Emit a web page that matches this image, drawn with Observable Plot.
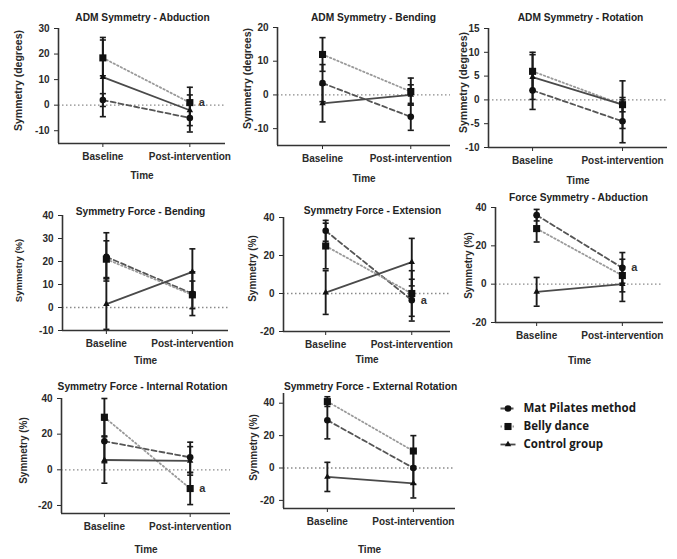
<!DOCTYPE html>
<html><head><meta charset="utf-8">
<script src="https://cdn.jsdelivr.net/npm/d3@7"></script>
<script src="https://cdn.jsdelivr.net/npm/@observablehq/plot@0.6"></script>
<style>
html,body{margin:0;padding:0;background:#fff;}
#root{position:relative;width:677px;height:559px;overflow:hidden;background:#fff;}
#root > svg{position:absolute;margin:0;}
</style></head><body><div id="root"></div>
<script>
// ---- data ----
const titles = ["ADM Symmetry - Abduction","ADM Symmetry - Bending","ADM Symmetry - Rotation",
  "Symmetry Force - Bending","Symmetry Force - Extension","Force Symmetry - Abduction",
  "Symmetry Force - Internal Rotation","Symmetry Force - External Rotation"];
const yLabels = ["Symmetry (degrees)","Symmetry (degrees)","Symmetry (degrees)",
  "Symmetry (%)","Symmetry (%)","Symmetry (%)","Symmetry (%)","Symmetry (%)"];
const times = ["Baseline","Post-intervention"];
const groups = ["Mat Pilates method","Belly dance","Control group"];
const yTicks = [[-10,0,10,20,30],[-10,0,10,20],[-10,-5,0,5,10,15],[-10,0,10,20,30,40],
  [-20,0,20,40],[-20,0,20,40],[-20,0,20,40],[-20,0,20,40]];
const matMean = [[2,-5],[3.5,-6.5],[2,-4.5],[22,6],[33,-3.5],[36,8.5],[16,7],[29.5,0]];
const matErr = [[2.5,5.5],[5.5,4],[4,4.5],[10.5,9.5],[5.5,11],[3,8],[12,8.5],[11.5,10]];
const bellyMean = [[18.5,1],[12,1],[6,-1],[21,5.5],[25,0],[29,4.5],[29.5,-10.5],[41,10.5]];
const bellyErr = [[7,6],[5,4],[4,5],[8,6],[12,12],[7,8.5],[10.5,9],[3,9.5]];
const controlMean = [[11,-2],[-2.5,0],[4.8,-1],[1.5,15.5],[0.5,16.5],[-4,0],[5.5,5],[-5.5,-9.5]];
const controlErr = [[15.5,6],[5.5,3],[4.7,1.5],[11,10],[11.5,12.5],[7.5,9],[13,8],[9,9]];
const sigGroup = ["Belly dance",null,null,null,"Mat Pilates method","Mat Pilates method","Belly dance",null];
const sigText = "a";

// ---- layout (pixel placement of each panel) ----
const layout = [
 {ax:58,right:225,top:28,bottom:143,yLo:-15,yHi:30,xLo:-0.51,xHi:1.41,tx:142,ty:17,lx:18,ly:80,timeY:175,lfs:10.5},
 {ax:277,right:450,top:27,bottom:145,yLo:-15,yHi:20,xLo:-0.51,xHi:1.45,tx:373,ty:17,lx:247,ly:78,timeY:178,lfs:10.5},
 {ax:488,right:667,top:28,bottom:147,yLo:-10,yHi:15,xLo:-0.49,xHi:1.5,tx:580,ty:17,lx:463,ly:82,timeY:180,lfs:10.5},
 {ax:62,right:228,top:215,bottom:330,yLo:-10,yHi:40,xLo:-0.51,xHi:1.42,tx:140,ty:211,lx:18,ly:270,timeY:360,lfs:9.5},
 {ax:283,right:450,top:217,bottom:331,yLo:-20,yHi:40,xLo:-0.49,xHi:1.45,tx:372,ty:210,lx:252,ly:268,timeY:359,lfs:10},
 {ax:495,right:663,top:207,bottom:322,yLo:-20,yHi:40,xLo:-0.48,xHi:1.48,tx:578,ty:197,lx:468,ly:265,timeY:360,lfs:10},
 {ax:61,right:230,top:398,bottom:513,yLo:-24.5,yHi:40,xLo:-0.5,xHi:1.47,tx:142,ty:386,lx:23,ly:450,timeY:549,lfs:10},
 {ax:283,right:455,top:393,bottom:508,yLo:-25,yHi:46,xLo:-0.51,xHi:1.49,tx:370,ty:386,lx:253,ly:447,timeY:549,lfs:10}
];
const styleOf = {
  "Mat Pilates method": {dash:"5,3", stroke:"#555", symbol:"circle", r:3.3},
  "Belly dance": {dash:"1.5,2.5", stroke:"#9a9a9a", symbol:"square", r:4},
  "Control group": {dash:null, stroke:"#4a4a4a", symbol:"triangle", r:2.4}
};
const FONT = '"Liberation Sans", Arial, sans-serif';
const root = document.getElementById("root");
const meansBy = [matMean, bellyMean, controlMean];
const errsBy = [matErr, bellyErr, controlErr];

titles.forEach((title, i) => {
  const L = layout[i];
  const rows = groups.flatMap((g, gi) => times.map((t, ti) => ({g, t: ti, m: meansBy[gi][i][ti], e: errsBy[gi][i][ti]})));
  const caps = rows.flatMap(d => [{...d, v: d.m - d.e}, {...d, v: d.m + d.e}]);
  const sig = sigGroup[i] ? rows.filter(d => d.g === sigGroup[i] && d.t === 1) : [];
  const left = L.ax - 60, top = L.top - 35;
  const width = L.right - left + 12, height = L.bottom - top + 50;
  const svg = Plot.plot({
    width, height, marginLeft: 60, marginRight: 12, marginTop: 35, marginBottom: 50,
    x: {domain: [L.xLo, L.xHi], ticks: [0, 1], tickFormat: d => times[d], tickSize: 4, label: null},
    y: {domain: [L.yLo, L.yHi], ticks: yTicks[i], tickFormat: d => String(d), tickSize: 4, label: null},
    style: {fontFamily: FONT, fontWeight: "bold", fontSize: "10px", color: "#2a2a2a", background: "transparent", overflow: "visible"},
    marks: [
      Plot.ruleY([0], {stroke: "#8a8a8a", strokeDasharray: "1.5,2.5", strokeWidth: 1.3}),
      Plot.ruleX([L.xLo], {stroke: "#333", strokeWidth: 1.6}),
      Plot.ruleY([L.yLo], {stroke: "#333", strokeWidth: 1.6}),
      ...groups.map(g => Plot.line(rows.filter(d => d.g === g), {x: "t", y: "m", stroke: styleOf[g].stroke, strokeDasharray: styleOf[g].dash, strokeWidth: 1.8})),
      Plot.ruleX(rows, {x: "t", y1: d => d.m - d.e, y2: d => d.m + d.e, stroke: "#1a1a1a", strokeWidth: 1.9}),
      Plot.link(caps, {x1: d => d.t - 0.035, x2: d => d.t + 0.035, y1: "v", y2: "v", stroke: "#1a1a1a", strokeWidth: 1.6}),
      ...groups.map(g => Plot.dot(rows.filter(d => d.g === g), {x: "t", y: "m", symbol: styleOf[g].symbol, r: styleOf[g].r, fill: "#111", stroke: null})),
      Plot.text(sig, {x: "t", y: "m", text: () => sigText, dx: 9, textAnchor: "start", fontSize: 11, fill: "#333"}),
      Plot.text([title], {frameAnchor: "top", text: d => d, dx: L.tx - (L.ax + L.right) / 2, dy: L.ty - L.top, textAnchor: "middle", lineAnchor: "middle", fontSize: 10.2, fill: "#222"}),
      Plot.text([yLabels[i]], {frameAnchor: "left", text: d => d, rotate: -90, dx: L.lx - L.ax, dy: L.ly - (L.top + L.bottom) / 2, textAnchor: "middle", lineAnchor: "middle", fontSize: L.lfs, fill: "#2a2a2a"}),
      Plot.text(["Time"], {frameAnchor: "bottom", text: d => d, dy: L.timeY - L.bottom, textAnchor: "middle", lineAnchor: "middle", fontSize: 10, fill: "#2a2a2a"})
    ]
  });
  svg.style.left = left + "px";
  svg.style.top = top + "px";
  root.appendChild(svg);
});

// legend
const legend = Plot.plot({
  width: 170, height: 62, marginLeft: 0, marginRight: 0, marginTop: 0, marginBottom: 0,
  x: {domain: [0, 1], range: [5, 20], axis: null},
  y: {type: "point", domain: groups, range: [13, 49], padding: 0, axis: null},
  style: {fontFamily: '"Open Sans", sans-serif', fontWeight: "bold", background: "transparent", overflow: "visible"},
  marks: [
    ...groups.map(g => Plot.link([g], {x1: () => 0, x2: () => 1, y1: d => d, y2: d => d, stroke: styleOf[g].stroke, strokeDasharray: styleOf[g].dash, strokeWidth: 1.8})),
    ...groups.map(g => Plot.dot([g], {x: () => 0.5, y: d => d, symbol: styleOf[g].symbol, r: styleOf[g].r, fill: "#111", stroke: null})),
    Plot.text(groups, {x: () => 1, y: d => d, text: d => d, dx: 8, textAnchor: "start", lineAnchor: "middle", fontSize: 11.5, fill: "#1a1a1a"})
  ]
});
legend.style.left = "495px";
legend.style.top = "395px";
root.appendChild(legend);
</script>
</body></html>
